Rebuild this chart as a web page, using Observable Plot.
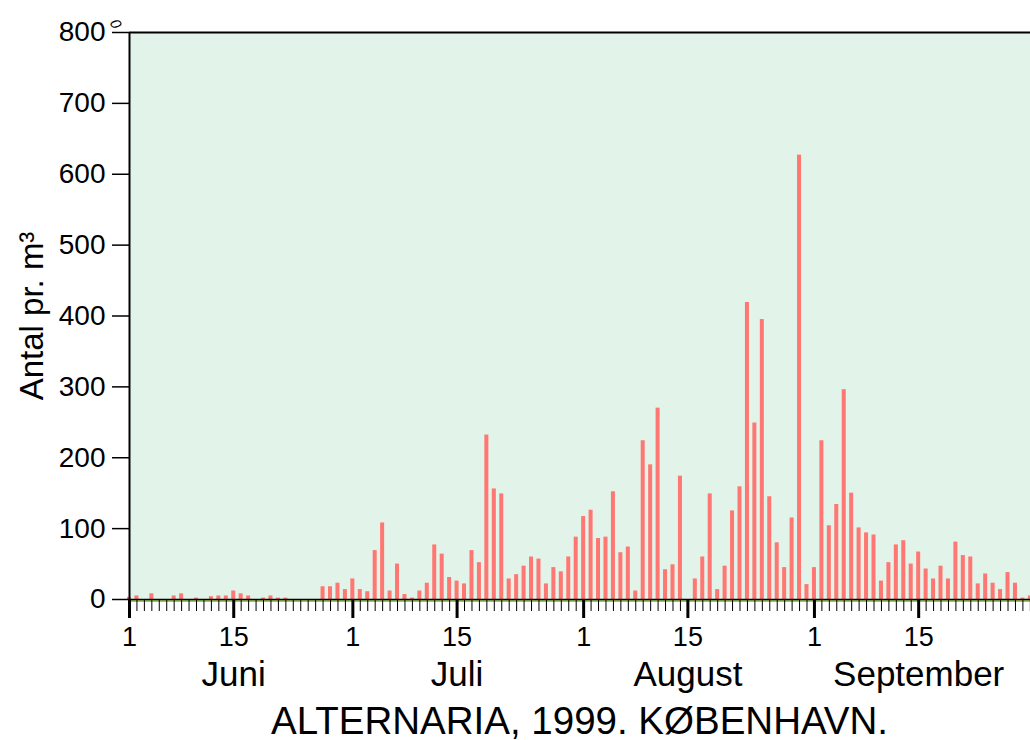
<!DOCTYPE html>
<html>
<head>
<meta charset="utf-8">
<script src="https://cdn.jsdelivr.net/npm/d3@7"></script>
<script src="https://cdn.jsdelivr.net/npm/@observablehq/plot@0.6"></script>
<style>
  html, body { margin: 0; padding: 0; background: #fff; overflow: hidden; }
  #title { width: 901px; margin-left: 129px; text-align: center; font-family: "Liberation Sans", Arial, sans-serif;
           font-size: 38.5px; line-height: 36px; height: 36px; padding-top: 3px; color: #000; white-space: nowrap; }
</style>
</head>
<body>
<div id="chart"></div>
<div id="title">ALTERNARIA, 1999. KØBENHAVN.</div>
<script>
// Daily counts (Antal pr. m³), 1 June – 30 September 1999
const juni = [3, 5, 0, 8, 0, 0, 5, 8, 0, 2, 0, 4, 5, 5, 12, 8, 5, 0, 2, 5, 2, 2, 0, 0, 0, 0, 18, 18, 23, 14];
const juli = [29, 14, 11, 69, 108, 12, 50, 7, 2, 12, 23, 77, 64, 31, 26, 22, 69, 52, 232, 156, 149, 29, 35, 47, 60, 57, 22, 45, 39, 60, 88];
const august = [117, 126, 86, 88, 152, 66, 74, 12, 224, 190, 270, 42, 49, 174, 0, 29, 60, 149, 14, 47, 125, 159, 419, 249, 395, 145, 80, 45, 115, 627, 21];
const september = [45, 224, 104, 134, 296, 150, 101, 94, 91, 26, 52, 77, 83, 50, 67, 43, 29, 47, 29, 81, 62, 60, 22, 36, 23, 14, 38, 23, 2, 5];

const monthNames = ["Juni", "Juli", "August", "September"];
const monthLengths = [30, 31, 31, 30];
const dayTickLabels = [1, 15];
const yTicks = [0, 100, 200, 300, 400, 500, 600, 700, 800];
const yLabel = "Antal pr. m³";

// Build table
const counts = [...juni, ...juli, ...august, ...september];
const data = counts.map((v, i) => ({day: i + 1, value: v}));
const allDays = data.map(d => d.day);
const monthStarts = [];
{ let s = 1; for (const L of monthLengths) { monthStarts.push(s); s += L; } }
const majorTicks = [];
const majorLabel = new Map();
monthStarts.forEach(s => dayTickLabels.forEach(dl => { majorTicks.push(s + dl - 1); majorLabel.set(s + dl - 1, String(dl)); }));
const monthMid = monthStarts.map(s => s + 14);

const barHalf = 0.27;

const chart = Plot.plot({
  width: 1030,
  height: 700,
  marginLeft: 129,
  marginRight: 0,
  marginTop: 32,
  marginBottom: 101,
  style: {fontFamily: "'Liberation Sans', Arial, sans-serif", background: "white", color: "black", overflow: "visible"},
  x: {type: "linear", domain: [1, 122.02]},
  y: {domain: [0, 800]},
  marks: [
    Plot.frame({fill: "#e2f4ea", stroke: "none"}),
    Plot.rect(data, {x1: d => d.day - barHalf, x2: d => d.day + barHalf, y1: 0, y2: "value", fill: "#ff7772"}),
    Plot.ruleY([800], {stroke: "black", strokeWidth: 2}),
    Plot.ruleX([1], {stroke: "black", strokeWidth: 2}),
    Plot.ruleY([0], {stroke: "#7ab51d", strokeWidth: 1.6, dy: 1.5}),
    Plot.ruleY([0], {stroke: "black", strokeWidth: 1.4}),
    Plot.axisY({ticks: yTicks, tickSize: 17, tickPadding: 7, fontSize: 28, strokeWidth: 1.5, label: null, tickFormat: d => String(d)}),
    Plot.axisX({ticks: allDays, tickSize: 12, strokeWidth: 1, fill: "none", label: null}),
    Plot.axisX({ticks: majorTicks, tickSize: 19, tickPadding: 8, strokeWidth: 3, fontSize: 27, label: null, tickFormat: d => majorLabel.get(d)}),
    Plot.text(monthNames, {x: (d, i) => monthMid[i], frameAnchor: "bottom", dy: 75, fontSize: 35, lineAnchor: "middle", fill: "black"}),
    Plot.text([yLabel], {frameAnchor: "left", dx: -97, rotate: -90, fontSize: 33, textAnchor: "middle", lineAnchor: "middle", fill: "black"}),
    Plot.text(["0"], {frameAnchor: "top-left", dx: -11, dy: -15, fontSize: 15, fontStyle: "italic", rotate: 60, fill: "black"})
  ]
});
document.getElementById("chart").appendChild(chart);
</script>
</body>
</html>
